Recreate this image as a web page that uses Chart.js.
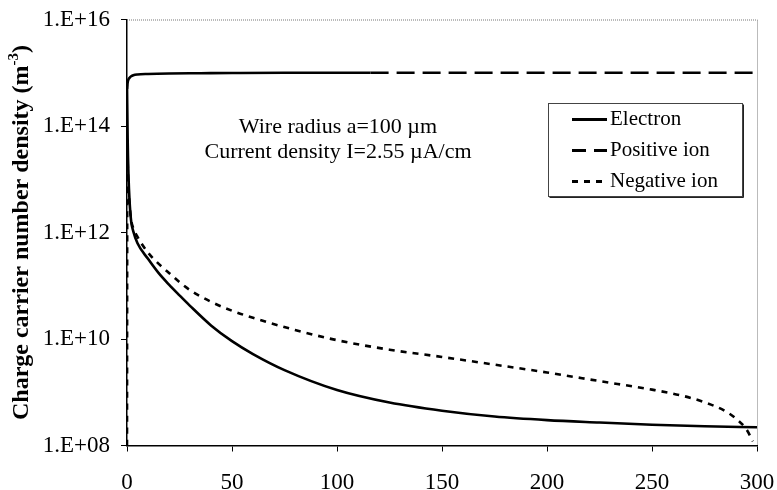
<!DOCTYPE html>
<html>
<head>
<meta charset="utf-8">
<script src="https://cdn.jsdelivr.net/npm/chart.js@4.4.1/dist/chart.umd.min.js"></script>
<style>
  html, body { margin: 0; background: #fff; }
  #wrap { width: 777px; height: 490px; }
</style>
</head>
<body>
<div id="wrap"><canvas id="chart"></canvas></div>
<script>
/* Charge carrier densities vs. distance from the wire, log y axis. */

const FONT = '"Liberation Serif", "Times New Roman", serif';

// electron density (m^-3)
const electronX = [0, 0.3, 0.7, 1.2, 2, 3, 5, 10, 15, 20, 25, 30, 40, 50, 60, 75, 100, 125, 150, 175, 200, 225, 250, 275, 300];
const electronN = [6e14, 6e13, 1.2e13, 4e12, 1.6e12, 1.05e12, 6.3e11, 3.2e11, 1.74e11, 1.05e11, 6.6e10, 4.2e10, 1.8e10, 9.1e9, 5.2e9, 2.6e9, 1.1e9, 6.4e8, 4.5e8, 3.5e8, 3e8, 2.7e8, 2.45e8, 2.3e8, 2.2e8];

// positive ion density
const positiveX = [0, 0.3, 0.7, 1.2, 2, 3, 5, 10, 20, 35, 50, 75, 100, 116, 150, 200, 250, 300];
const positiveN = [5e14, 6.5e14, 7.5e14, 8e14, 8.6e14, 9e14, 9.3e14, 9.5e14, 9.7e14, 9.8e14, 9.9e14, 1e15, 1e15, 1e15, 1e15, 1e15, 1e15, 1e15];
const positiveDashFrom = 116;   // line turns dashed past this x

// negative ion density
const negativeX = [0, 0.15, 0.6, 1.2, 2, 3, 5, 10, 15, 20, 25, 30, 40, 50, 60, 80, 100, 125, 150, 175, 200, 225, 250, 265, 275, 285, 290, 295, 298];
const negativeN = [1e8, 3e13, 8e12, 3.5e12, 1.7e12, 1.2e12, 8.3e11, 4.2e11, 2.6e11, 1.74e11, 1.17e11, 8.3e10, 5e10, 3.4e10, 2.5e10, 1.48e10, 9.5e9, 6.3e9, 4.6e9, 3.3e9, 2.35e9, 1.62e9, 1.12e9, 8.5e8, 6.5e8, 4.4e8, 3.2e8, 2e8, 1.2e8];

const yTickValues = [1e8, 1e10, 1e12, 1e14, 1e16];
const yTickLabels = ['1.E+08', '1.E+10', '1.E+12', '1.E+14', '1.E+16'];
const xTickValues = [0, 50, 100, 150, 200, 250, 300];

const noteLines = ['Wire radius a=100 \u00b5m', 'Current density I=2.55 \u00b5A/cm'];

function pts(xs, ys) {
  return xs.map((x, i) => ({ x, y: ys[i] }));
}

// plot frame, note text, legend box and y title (with superscript)
const extras = {
  id: 'extras',
  beforeDatasetsDraw(chart) {
    const { ctx, chartArea: a } = chart;
    ctx.save();
    ctx.strokeStyle = '#777';
    ctx.lineWidth = 1;
    ctx.setLineDash([1, 1]);
    ctx.beginPath();
    ctx.moveTo(a.left, a.top + 0.5);
    ctx.lineTo(a.right + 0.5, a.top + 0.5);
    ctx.lineTo(a.right + 0.5, a.bottom);
    ctx.stroke();
    ctx.restore();
  },
  afterDraw(chart) {
    const { ctx, chartArea: a } = chart;
    ctx.save();
    ctx.fillStyle = '#000';

    // note
    ctx.font = '22px ' + FONT;
    ctx.textAlign = 'center';
    ctx.textBaseline = 'middle';
    ctx.fillText(noteLines[0], 338, 127);
    ctx.fillText(noteLines[1], 338, 152);

    // legend
    const box = { x: 548.5, y: 103.5, w: 194, h: 93 };
    ctx.fillStyle = '#fff';
    ctx.fillRect(box.x, box.y, box.w, box.h);
    ctx.strokeStyle = '#444';
    ctx.lineWidth = 1;
    ctx.strokeRect(box.x, box.y, box.w, box.h);
    ctx.strokeStyle = '#222';
    ctx.beginPath();
    ctx.moveTo(box.x + 1, box.y + box.h + 1);
    ctx.lineTo(box.x + box.w + 1, box.y + box.h + 1);
    ctx.lineTo(box.x + box.w + 1, box.y + 1);
    ctx.stroke();

    ctx.font = '21px ' + FONT;
    ctx.textAlign = 'left';
    ctx.fillStyle = '#000';
    chart.data.datasets.forEach((ds, i) => {
      const y = box.y + 16 + i * 31;
      ctx.strokeStyle = '#000';
      ctx.lineWidth = 3;
      ctx.setLineDash(ds.legendDash);
      ctx.beginPath();
      ctx.moveTo(572, y);
      ctx.lineTo(607, y);
      ctx.stroke();
      ctx.setLineDash([]);
      ctx.fillText(ds.label, 610, y);
    });

    // y axis title
    const main = 'Charge carrier number density (m';
    const sup = '-3';
    const tail = ')';
    ctx.translate(20, (a.top + a.bottom) / 2);
    ctx.rotate(-Math.PI / 2);
    ctx.textBaseline = 'alphabetic';
    ctx.font = 'bold 24px ' + FONT;
    const w1 = ctx.measureText(main).width;
    const w3 = ctx.measureText(tail).width;
    ctx.font = 'bold 15px ' + FONT;
    const w2 = ctx.measureText(sup).width;
    let x = -(w1 + w2 + w3) / 2;
    ctx.font = 'bold 24px ' + FONT;
    ctx.fillText(main, x, 8);
    x += w1;
    ctx.font = 'bold 15px ' + FONT;
    ctx.fillText(sup, x, -2);
    x += w2;
    ctx.font = 'bold 24px ' + FONT;
    ctx.fillText(tail, x, 8);
    ctx.restore();
  }
};

const line = {
  borderColor: '#000',
  backgroundColor: '#000',
  borderWidth: 2.6,
  pointRadius: 0,
  fill: false,
  cubicInterpolationMode: 'monotone'
};

new Chart(document.getElementById('chart'), {
  type: 'line',
  data: {
    datasets: [
      { ...line, label: 'Electron', data: pts(electronX, electronN), borderDash: [], legendDash: [] },
      {
        ...line, label: 'Positive ion', data: pts(positiveX, positiveN), borderDash: [], legendDash: [14, 8],
        segment: { borderDash: c => (c.p0.parsed.x >= positiveDashFrom ? [18, 8] : []) }
      },
      { ...line, label: 'Negative ion', data: pts(negativeX, negativeN), borderDash: [6, 6], legendDash: [6, 6] }
    ]
  },
  options: {
    responsive: true,
    maintainAspectRatio: false,
    animation: false,
    devicePixelRatio: 1,
    layout: { padding: { left: 0, right: 20, top: 19.5, bottom: 0 } },
    plugins: { legend: { display: false }, tooltip: { enabled: false } },
    scales: {
      x: {
        type: 'linear',
        min: 0,
        max: 300,
        afterBuildTicks: s => { s.ticks = xTickValues.map(v => ({ value: v })); },
        afterFit: s => { s.height = 44.5; s.paddingLeft = 0; s.paddingRight = 0; },
        grid: { drawOnChartArea: false, drawTicks: true, tickLength: 6, color: '#000' },
        border: { color: '#000', width: 1.5 },
        ticks: { color: '#000', font: { family: FONT, size: 23 }, padding: 18, maxRotation: 0 }
      },
      y: {
        type: 'logarithmic',
        min: 1e8,
        max: 1e16,
        afterBuildTicks: s => { s.ticks = yTickValues.map(v => ({ value: v })); },
        afterFit: s => { s.width = 127; s.paddingTop = 0; s.paddingBottom = 0; },
        grid: { drawOnChartArea: false, drawTicks: true, tickLength: 6, color: '#000' },
        border: { color: '#000', width: 1.5 },
        ticks: {
          color: '#000',
          font: { family: FONT, size: 23 },
          padding: 11,
          callback: v => yTickLabels[yTickValues.indexOf(v)]
        }
      }
    }
  },
  plugins: [extras]
});
</script>
</body>
</html>
